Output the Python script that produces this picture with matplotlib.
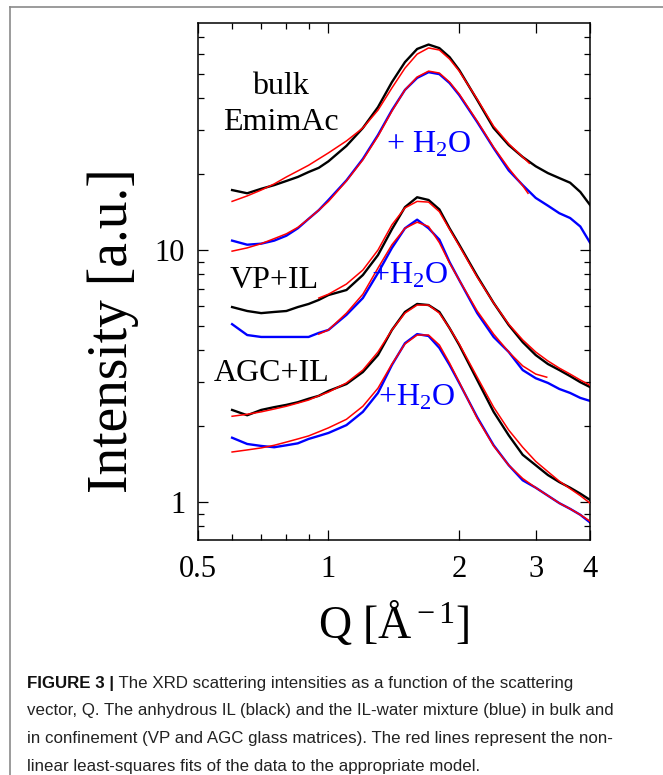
import matplotlib
matplotlib.use("Agg")
import matplotlib.pyplot as plt
from matplotlib import font_manager
from matplotlib.lines import Line2D
from matplotlib.ticker import FixedLocator, FuncFormatter, LogLocator, NullFormatter

plt.rcParams['font.family'] = ['Liberation Serif', 'DejaVu Serif']
plt.rcParams['mathtext.fontset'] = 'custom'
plt.rcParams['mathtext.rm'] = 'Liberation Serif'
plt.rcParams['mathtext.it'] = 'Liberation Serif:italic'

# Q grid [1/A] used for the measured curves
q_full = [0.6, 0.65, 0.7, 0.75, 0.8, 0.85, 0.9, 0.95, 1.0, 1.1, 1.2, 1.3, 1.4, 1.5,
          1.6, 1.7, 1.8, 1.9, 2.0, 2.2, 2.4, 2.6, 2.8, 3.0, 3.2, 3.4, 3.6, 3.8, 4.0]

# bulk EmimAc
bulk_il = [17.3, 16.8, 17.5, 18.1, 18.8, 19.5, 20.4, 21.2, 22.5, 25.9, 30.5, 36.9, 46.4, 55.7,
           62.8, 65.4, 63.3, 58.3, 51.8, 39.4, 30.5, 26.1, 23.4, 21.5, 20.2, 19.3, 18.5, 17.0, 15.1]
bulk_water = [10.9, 10.5, 10.6, 10.9, 11.4, 12.2, 13.3, 14.4, 15.8, 18.9, 23.0, 28.6, 35.9, 43.2,
              48.2, 50.8, 49.9, 46.0, 41.2, 32.2, 25.4, 20.7, 18.1, 16.1, 15.0, 14.0, 13.4, 12.4, 10.7]
q_bulk_il_fit = q_full[:23] + [2.9]
bulk_il_fit = [15.6, 16.4, 17.3, 18.3, 19.5, 20.6, 21.7, 23.0, 24.3, 27.1, 30.5, 35.9, 44.0, 52.7,
               59.9, 63.4, 62.2, 57.3, 51.3, 39.7, 31.0, 26.4, 23.4, 22.1]
q_bulk_water_fit = q_full[:23] + [2.88]
bulk_water_fit = [9.9, 10.2, 10.6, 11.1, 11.6, 12.3, 13.3, 14.4, 15.6, 18.8, 22.8, 28.3, 35.6, 43.2,
                  48.6, 51.3, 50.4, 46.4, 41.6, 32.5, 25.6, 21.1, 18.0, 16.8]

# VP + IL
vp_il = [5.94, 5.73, 5.62, 5.68, 5.73, 5.94, 6.11, 6.34, 6.63, 6.94, 7.96, 9.55, 12.1, 14.8,
         16.2, 15.8, 14.5, 12.2, 10.5, 7.88, 6.17, 5.04, 4.31, 3.83, 3.53, 3.34, 3.16, 2.99, 2.86]
vp_water = [5.08, 4.60, 4.52, 4.52, 4.52, 4.52, 4.52, 4.69, 4.82, 5.53, 6.45, 8.11, 10.2, 12.2,
            13.2, 12.2, 11.0, 8.96, 7.60, 5.62, 4.52, 3.94, 3.34, 3.10, 2.97, 2.81, 2.71, 2.59, 2.52]
q_vp_il_fit = q_full[7:]
vp_il_fit = [6.45, 6.68, 7.33, 8.33, 10.0, 12.6, 14.7, 15.6, 15.5, 14.2, 12.1, 10.4, 7.81, 6.17,
             5.08, 4.40, 3.94, 3.63, 3.40, 3.22, 3.05, 2.91]
q_vp_water_fit = q_full[7:24] + [3.18]
vp_water_fit = [4.64, 4.82, 5.62, 6.68, 8.48, 10.5, 12.2, 12.9, 12.4, 10.7, 8.88, 7.60, 5.73, 4.64,
                3.94, 3.47, 3.22, 3.13]

# AGC + IL
agc_il = [2.32, 2.21, 2.32, 2.38, 2.43, 2.49, 2.57, 2.64, 2.76, 2.94, 3.28, 3.83, 4.82, 5.68,
          6.11, 6.05, 5.68, 4.90, 4.20, 3.05, 2.28, 1.84, 1.54, 1.40, 1.28, 1.20, 1.14, 1.08, 1.02]
agc_water = [1.80, 1.70, 1.67, 1.65, 1.68, 1.71, 1.78, 1.83, 1.88, 2.02, 2.28, 2.71, 3.50, 4.27,
             4.64, 4.56, 4.09, 3.50, 2.97, 2.17, 1.68, 1.40, 1.22, 1.14, 1.06, 0.99, 0.94, 0.89, 0.83]
agc_il_fit = [2.19, 2.23, 2.28, 2.34, 2.40, 2.47, 2.54, 2.64, 2.73, 2.97, 3.34, 3.94, 4.82, 5.62,
              6.05, 6.05, 5.62, 4.90, 4.24, 3.13, 2.38, 1.93, 1.65, 1.45, 1.32, 1.21, 1.13, 1.06, 0.99]
agc_water_fit = [1.58, 1.61, 1.64, 1.68, 1.73, 1.78, 1.83, 1.90, 1.97, 2.13, 2.40, 2.83, 3.53, 4.24,
                 4.60, 4.60, 4.20, 3.56, 2.99, 2.15, 1.67, 1.40, 1.24, 1.14, 1.06, 0.99, 0.94, 0.89, 0.84]

x_ticks = [0.5, 1, 2, 3, 4]
x_minor = [0.6, 0.7, 0.8, 0.9]

W, H = 663, 775
fig = plt.figure(figsize=(W / 100, H / 100), dpi=100)
ax = fig.add_axes([197.7 / W, 1 - 540 / H, (590 - 197.7) / W, (540 - 23.3) / H])

data_lw = 1.7
fit_lw = 1.1
for y in [bulk_il, vp_il, agc_il]:
    ax.plot(q_full, y, color='black', lw=data_lw, zorder=2)
for y in [bulk_water, vp_water, agc_water]:
    ax.plot(q_full, y, color='blue', lw=data_lw, zorder=2)
for qq, y in [(q_bulk_il_fit, bulk_il_fit), (q_bulk_water_fit, bulk_water_fit),
              (q_vp_il_fit, vp_il_fit), (q_vp_water_fit, vp_water_fit),
              (q_full, agc_il_fit), (q_full, agc_water_fit)]:
    ax.plot(qq, y, color='red', lw=fit_lw, zorder=3)

ax.set_xscale('log')
ax.set_yscale('log')
ax.set_xlim(0.5, 4)
ax.set_ylim(0.707, 79.4)

fmt = FuncFormatter(lambda v, p: f"{v:g}")
ax.xaxis.set_major_locator(FixedLocator(x_ticks))
ax.xaxis.set_minor_locator(FixedLocator(x_minor))
ax.xaxis.set_major_formatter(fmt)
ax.xaxis.set_minor_formatter(NullFormatter())
ax.yaxis.set_major_locator(LogLocator(base=10))
ax.yaxis.set_minor_locator(LogLocator(base=10, subs=range(2, 10)))
ax.yaxis.set_major_formatter(fmt)
ax.yaxis.set_minor_formatter(NullFormatter())

ax.tick_params(which='both', direction='in', top=True, right=True, width=0.9)
ax.tick_params(which='major', length=7, labelsize=22)
ax.tick_params(which='minor', length=4.5)
ax.tick_params(axis='x', pad=11)
ax.tick_params(axis='y', pad=9)
for s in ax.spines.values():
    s.set_linewidth(1.1)

ax.set_xlabel(r"Q [Å$^{\rm -1}$]", fontsize=33)
ax.set_ylabel("Intensity [a.u.]", fontsize=40)
ax.xaxis.set_label_coords(0.5, -0.115)
ax.yaxis.set_label_coords(-0.15, 0.406)

ax.text(0.212, 0.843, "bulk\nEmimAc", transform=ax.transAxes, ha='center', va='center',
        fontsize=23, linespacing=1.3)
ax.text(0.589, 0.764, r"+ H$_2$O", transform=ax.transAxes, ha='center', va='center',
        fontsize=23, color='blue')
ax.text(0.194, 0.503, "VP+IL", transform=ax.transAxes, ha='center', va='center', fontsize=23)
ax.text(0.541, 0.511, r"+H$_2$O", transform=ax.transAxes, ha='center', va='center',
        fontsize=23, color='blue')
ax.text(0.189, 0.323, "AGC+IL", transform=ax.transAxes, ha='center', va='center', fontsize=23)
ax.text(0.559, 0.275, r"+H$_2$O", transform=ax.transAxes, ha='center', va='center',
        fontsize=23, color='blue')

# page frame
fig.add_artist(Line2D([10 / W, 1], [1 - 7 / H, 1 - 7 / H], transform=fig.transFigure,
                      color='#8a8a8a', lw=1.2))
fig.add_artist(Line2D([10 / W, 10 / W], [0, 1 - 7 / H], transform=fig.transFigure,
                      color='#8a8a8a', lw=1.2))

# caption
names = {f.name for f in font_manager.fontManager.ttflist}
if 'Liberation Sans Narrow' in names:
    cap_font, cap_size = 'Liberation Sans Narrow', 13.5
else:
    cap_font, cap_size = 'Liberation Sans', 12.2
cap_lines = ["The XRD scattering intensities as a function of the scattering",
             "vector, Q. The anhydrous IL (black) and the IL-water mixture (blue) in bulk and",
             "in confinement (VP and AGC glass matrices). The red lines represent the non-",
             "linear least-squares fits of the data to the appropriate model."]
baselines = [688, 715.5, 743, 770.5]
x0 = 27 / W
renderer = fig.canvas.get_renderer()
t = fig.text(x0, 1 - baselines[0] / H, "FIGURE 3 |", family=cap_font, fontsize=cap_size,
             weight='bold', va='baseline', color='#111111')
bb = t.get_window_extent(renderer=renderer)
fig.text(bb.x1 / W, 1 - baselines[0] / H, " " + cap_lines[0], family=cap_font,
         fontsize=cap_size, va='baseline', color='#222222')
for line, yb in zip(cap_lines[1:], baselines[1:]):
    fig.text(x0, 1 - yb / H, line, family=cap_font, fontsize=cap_size, va='baseline',
             color='#222222')

fig.savefig('out.png', dpi=100)
